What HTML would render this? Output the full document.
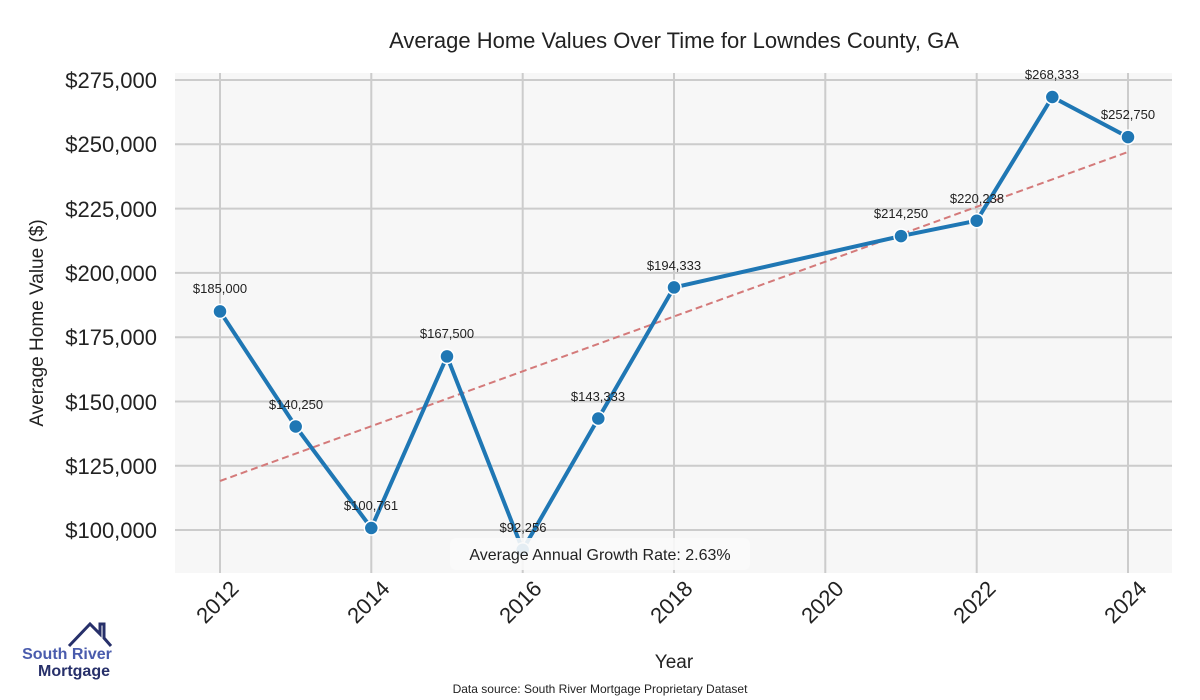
<!DOCTYPE html>
<html><head><meta charset="utf-8"><style>body{margin:0;background:#fff}svg{display:block}</style></head><body>
<svg width="1200" height="700" xmlns="http://www.w3.org/2000/svg" font-family="Liberation Sans, sans-serif">
<rect x="175" y="73" width="997" height="500" fill="#f7f7f7"/>
<g stroke="#cccccc" stroke-width="2">
<line x1="175" x2="1172" y1="80" y2="80"/><line x1="175" x2="1172" y1="144.3" y2="144.3"/><line x1="175" x2="1172" y1="208.6" y2="208.6"/><line x1="175" x2="1172" y1="272.9" y2="272.9"/><line x1="175" x2="1172" y1="337.2" y2="337.2"/><line x1="175" x2="1172" y1="401.5" y2="401.5"/><line x1="175" x2="1172" y1="465.8" y2="465.8"/><line x1="175" x2="1172" y1="530" y2="530"/>
<line x1="220" x2="220" y1="73" y2="573"/><line x1="371.3" x2="371.3" y1="73" y2="573"/><line x1="522.7" x2="522.7" y1="73" y2="573"/><line x1="674" x2="674" y1="73" y2="573"/><line x1="825.3" x2="825.3" y1="73" y2="573"/><line x1="976.7" x2="976.7" y1="73" y2="573"/><line x1="1128" x2="1128" y1="73" y2="573"/>
</g>
<g font-size="22" fill="#222" text-anchor="end">
<text x="157" y="88">$275,000</text><text x="157" y="152">$250,000</text><text x="157" y="217">$225,000</text><text x="157" y="281">$200,000</text><text x="157" y="345">$175,000</text><text x="157" y="410">$150,000</text><text x="157" y="474">$125,000</text><text x="157" y="538">$100,000</text>
</g>
<g font-size="22" fill="#222" text-anchor="end">
<text transform="translate(240,590) rotate(-45)">2012</text>
<text transform="translate(391,590) rotate(-45)">2014</text>
<text transform="translate(543,590) rotate(-45)">2016</text>
<text transform="translate(694,590) rotate(-45)">2018</text>
<text transform="translate(845,590) rotate(-45)">2020</text>
<text transform="translate(997,590) rotate(-45)">2022</text>
<text transform="translate(1148,590) rotate(-45)">2024</text>
</g>
<text x="674" y="48" font-size="22" fill="#222" text-anchor="middle">Average Home Values Over Time for Lowndes County, GA</text>
<text x="674" y="668" font-size="19" fill="#222" text-anchor="middle">Year</text>
<text transform="translate(43,323) rotate(-90)" font-size="19" fill="#222" text-anchor="middle">Average Home Value ($)</text>
<text x="600" y="693" font-size="12" fill="#222" text-anchor="middle">Data source: South River Mortgage Proprietary Dataset</text>
<line x1="220" y1="481" x2="1128" y2="152" stroke="#d47a7a" stroke-width="2" stroke-dasharray="7,4"/>
<polyline fill="none" stroke="#1f77b4" stroke-width="4" stroke-linejoin="round" points="220,311.4 295.7,426.5 371.3,528 447,356.4 522.7,549.9 598.3,418.5 674,287.4 901,236.1 976.7,220.7 1052.3,97 1128,137.1"/>
<g fill="#1f77b4" stroke="#fff" stroke-width="1.5">
<circle cx="220" cy="311.4" r="7"/><circle cx="295.7" cy="426.5" r="7"/><circle cx="371.3" cy="528" r="7"/><circle cx="447" cy="356.4" r="7"/><circle cx="522.7" cy="549.9" r="7"/><circle cx="598.3" cy="418.5" r="7"/><circle cx="674" cy="287.4" r="7"/><circle cx="901" cy="236.1" r="7"/><circle cx="976.7" cy="220.7" r="7"/><circle cx="1052.3" cy="97" r="7"/><circle cx="1128" cy="137.1" r="7"/>
</g>
<g font-size="13" fill="#222" text-anchor="middle">
<text x="220" y="293">$185,000</text><text x="296" y="409">$140,250</text><text x="371" y="510">$100,761</text><text x="447" y="338">$167,500</text><text x="523" y="532">$92,256</text><text x="598" y="401">$143,333</text><text x="674" y="270">$194,333</text><text x="901" y="218">$214,250</text><text x="977" y="203">$220,238</text><text x="1052" y="79">$268,333</text><text x="1128" y="119">$252,750</text>
</g>
<rect x="450" y="538" width="300" height="32" rx="6" fill="#fafafa" opacity="0.9"/>
<text x="600" y="560" font-size="16" fill="#222" text-anchor="middle">Average Annual Growth Rate: 2.63%</text>
<polyline points="69,646 90,624 100,634 100,624 104,624 104,638 111,646" fill="none" stroke="#27306a" stroke-width="3"/>
<text x="67" y="659" font-size="16" font-weight="bold" fill="#4a5cad" text-anchor="middle">South River</text>
<text x="74" y="676" font-size="16" font-weight="bold" fill="#27306a" text-anchor="middle">Mortgage</text>
</svg>
</body></html>
